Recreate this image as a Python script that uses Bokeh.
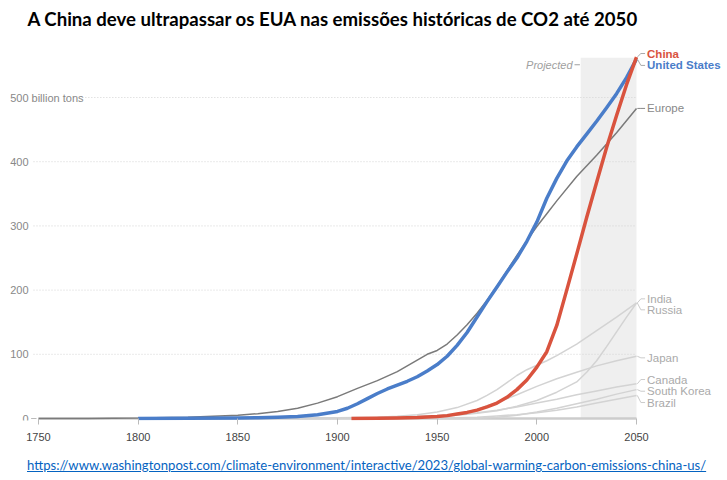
from bokeh.plotting import figure
from bokeh.models import Range1d, FixedTicker, ColumnDataSource, Div
from bokeh.layouts import column
from bokeh.core.properties import value
from bokeh.embed import file_html
from bokeh.resources import INLINE

# ---------------- data (billion tons, cumulative CO2) ----------------
us_years = [1800, 1825, 1850, 1860, 1870, 1880, 1890, 1900, 1905, 1910, 1915, 1920, 1925, 1930,
            1935, 1940, 1945, 1950, 1955, 1960, 1965, 1970, 1975, 1980, 1985, 1990, 1995, 2000,
            2005, 2010, 2015, 2020, 2025, 2030, 2035, 2040, 2045, 2050]
us_vals = [0, 0.3, 0.8, 1.2, 2, 3, 6, 11, 16, 23, 31, 39, 46, 52,
           58, 65, 74, 84, 97, 114, 134, 158, 182, 205, 228, 250, 276, 306,
           343, 374, 401, 423, 443, 463, 484, 506, 531, 560]

europe_years = [1750, 1775, 1800, 1825, 1850, 1860, 1870, 1880, 1890, 1900, 1910, 1920, 1930, 1940,
                1945, 1950, 1955, 1960, 1965, 1970, 1975, 1980, 1985, 1990, 1995, 2000, 2005, 2010,
                2020, 2030, 2040, 2050]
europe_vals = [0, 0.2, 0.8, 2, 5, 7.5, 11, 16, 24, 34, 47, 59, 73, 91,
               100, 106, 116, 130, 146, 164, 184, 206, 230, 254, 277, 299, 319, 339,
               377, 410, 445, 483]

china_years = [1907, 1920, 1930, 1940, 1950, 1955, 1960, 1965, 1970, 1975, 1980, 1985, 1990, 1995,
               2000, 2005, 2010, 2015, 2020, 2025, 2030, 2035, 2040, 2045, 2050]
china_vals = [0, 0.3, 0.7, 1.5, 3, 4.5, 7, 9.5, 13, 18, 24, 33, 45, 60,
              80, 104, 145, 200, 256, 313, 368, 422, 472, 520, 563]

russia_years = [1880, 1900, 1920, 1930, 1940, 1950, 1960, 1970, 1975, 1980, 1985, 1990, 1995, 2000,
                2005, 2010, 2020, 2030, 2040, 2050]
russia_vals = [0, 1, 2, 3.5, 6, 10, 17, 28, 36, 45, 56, 67, 76, 83,
               90, 98, 116, 137, 158, 180]

india_years = [1880, 1900, 1920, 1940, 1950, 1960, 1970, 1980, 1990, 2000, 2010, 2020, 2025, 2030,
               2035, 2040, 2045, 2050]
india_vals = [0, 0.5, 1, 2, 3, 5, 8, 12, 19, 28, 41, 57, 72, 90,
              112, 135, 158, 180]

japan_years = [1890, 1920, 1940, 1950, 1960, 1970, 1980, 1990, 2000, 2010, 2020, 2030, 2040, 2050]
japan_vals = [0, 1, 3, 4.5, 7, 14, 25, 37, 50, 62, 72, 82, 90, 97]

canada_years = [1880, 1920, 1950, 1970, 1980, 1990, 2000, 2010, 2020, 2030, 2040, 2050]
canada_vals = [0, 1, 4, 9, 13, 18, 24, 30, 37, 43, 49, 54]

korea_years = [1950, 1970, 1980, 1990, 2000, 2010, 2020, 2030, 2040, 2050]
korea_vals = [0, 0.5, 2, 5, 10, 16, 23, 30, 38, 45]

brazil_years = [1940, 1960, 1970, 1980, 1990, 2000, 2010, 2020, 2030, 2040, 2050]
brazil_vals = [0, 1, 2, 4, 6, 9, 13, 18, 24, 30, 36]

x_ticks = [1750, 1800, 1850, 1900, 1950, 2000, 2050]
y_ticks = [0, 100, 200, 300, 400, 500]
y_tick_labels = ["0", "100", "200", "300", "400", "500"]
projected_start = 2022
projected_end = 2050

title_text = "A China deve ultrapassar os EUA nas emissões históricas de CO2 até 2050"
url_text = "https://www.washingtonpost.com/climate-environment/interactive/2023/global-warming-carbon-emissions-china-us/"

# ---------------- figure ----------------
p = figure(width=727, height=450, output_backend="svg", toolbar_location=None,
           x_range=Range1d(1730.94, 2095.65), y_range=Range1d(-3.1, 651.1),
           y_axis_location=None, min_border_left=0, min_border_right=0,
           min_border_top=0, min_border_bottom=30)
p.outline_line_color = None
p.xgrid.visible = False
p.ygrid.visible = False
p.background_fill_color = "white"

FONT = value("Liberation Sans")

# x axis
ax = p.xaxis[0]
ax.ticker = FixedTicker(ticks=x_ticks)
ax.axis_line_color = None
ax.major_tick_line_color = "#bbbbbb"
ax.major_tick_in = 2
ax.major_tick_out = 4
ax.minor_tick_line_color = None
ax.major_label_text_font = "Liberation Sans"
ax.major_label_text_font_size = "11px"
ax.major_label_text_color = "#444444"
ax.major_label_standoff = 8

# projected band
p.quad(left=[projected_start], right=[projected_end], bottom=[0], top=[max(china_vals[-1], us_vals[-1]) - 1],
       fill_color="#efefef", line_color=None)

# gridlines (dotted)
grid_src = ColumnDataSource(dict(
    x0=[1772 if t == 500 else 1747.5 for t in y_ticks[1:]],
    x1=[x_ticks[-1]] * (len(y_ticks) - 1),
    y=y_ticks[1:]))
p.segment(x0="x0", y0="y", x1="x1", y1="y", source=grid_src,
          line_color="#d4d4d4", line_width=1, line_dash="1 2")

# baseline
p.segment(x0=[x_ticks[0]], y0=[0], x1=[x_ticks[-1]], y1=[0], line_color="#cccccc", line_width=2.5)
p.segment(x0=[1746.3], y0=[0], x1=[1749], y1=[0], line_color="#bbbbbb", line_width=1)

# y tick labels
p.text(x=[1745] * len(y_ticks), y=y_ticks, text=y_tick_labels, text_align="right",
       text_baseline="middle", text_font=FONT, text_font_size="11px", text_color="#888888")
p.text(x=[1745], y=[500], text=["billion tons"], x_offset=3, text_align="left",
       text_baseline="middle", text_font=FONT, text_font_size="11px", text_color="#888888")

# Projected label
p.text(x=[2017.9], y=[551], text=["Projected"], text_align="right", text_baseline="middle",
       text_font=FONT, text_font_size="11px", text_font_style="italic", text_color="#a0a0a0")
p.segment(x0=[2018.9], y0=[551], x1=[2021.6], y1=[551], line_color="#a0a0a0", line_width=1)

LIGHT = "#d3d3d3"
minor = [
    (russia_years, russia_vals), (india_years, india_vals), (japan_years, japan_vals),
    (canada_years, canada_vals), (korea_years, korea_vals), (brazil_years, brazil_vals),
]
for yrs, vals in minor:
    p.line(yrs, vals, line_color=LIGHT, line_width=1.5)

p.line(europe_years, europe_vals, line_color="#7a7a7a", line_width=1.5)
p.line(us_years, us_vals, line_color="#4a7dc9", line_width=3.5, line_join="round")
p.line(china_years, china_vals, line_color="#d9533e", line_width=3.5, line_join="round")

# right-hand labels with connectors
labels = [
    ("China", china_vals[-1], 568.5, "#d9533e", "bold", "#aaaaaa"),
    ("United States", us_vals[-1], 550, "#4a7dc9", "bold", "#aaaaaa"),
    ("Europe", europe_vals[-1], 483, "#888888", "normal", "#888888"),
    ("India", india_vals[-1], 186.4, "#aaaaaa", "normal", "#cccccc"),
    ("Russia", russia_vals[-1], 169.3, "#aaaaaa", "normal", "#cccccc"),
    ("Japan", japan_vals[-1], 94.5, "#aaaaaa", "normal", "#cccccc"),
    ("Canada", canada_vals[-1], 60.7, "#aaaaaa", "normal", "#cccccc"),
    ("South Korea", korea_vals[-1], 42.5, "#aaaaaa", "normal", "#cccccc"),
    ("Brazil", brazil_vals[-1], 24.9, "#aaaaaa", "normal", "#cccccc"),
]
for name, end_v, lab_v, col, style, conn in labels:
    p.line([2050.4, 2052.2, 2054.3], [end_v, lab_v, lab_v], line_color=conn, line_width=1)
    p.text(x=[2055.3], y=[lab_v], text=[name], text_align="left", text_baseline="middle",
           text_font=FONT, text_font_size="11.5px", text_font_style=style, text_color=col)

# title
p.text(x=[1744.5], y=[623], text=[title_text], text_align="left", text_baseline="middle",
       text_font=value("Lato"), text_font_size="18.6px", text_font_style="bold", text_color="#000000")

# source URL (below plot)
url = Div(text=f'<span style="text-decoration: underline;">{url_text}</span>',
          width=727, height=30, margin=(0, 0, 0, 0),
          styles={"font-family": "Lato", "font-size": "13.1px", "color": "#0563c1",
                  "padding-left": "27px", "padding-top": "7px", "line-height": "16px",
                  "white-space": "nowrap"})

layout = column(p, url, spacing=0)
open("out.html", "w").write(file_html(layout, INLINE))
